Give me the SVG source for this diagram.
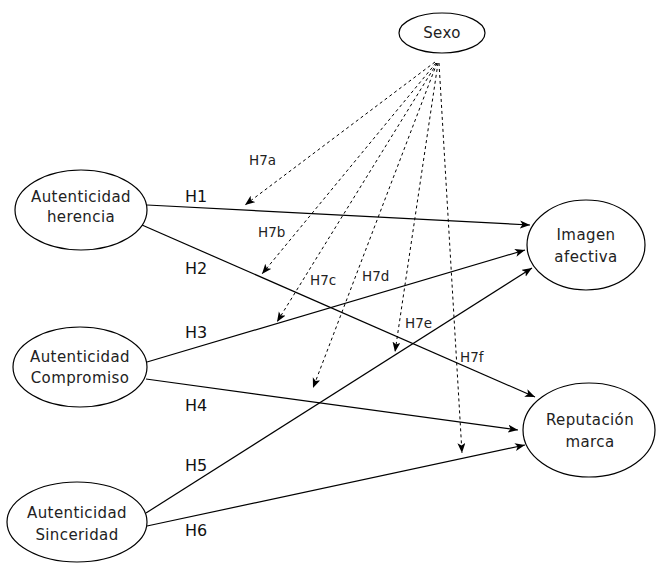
<svg xmlns="http://www.w3.org/2000/svg" width="656" height="563" viewBox="0 0 656 563">
<style>
.node ellipse{fill:#fff;stroke:#000;stroke-width:1.2}
.lbl{font-family:"DejaVu Sans",sans-serif;font-size:15px;letter-spacing:0.4px;fill:#222;text-anchor:middle}
.h{font-family:"DejaVu Sans",sans-serif;font-size:16px;fill:#111}
.h7{font-family:"DejaVu Sans",sans-serif;font-size:13.5px;fill:#222}
.solid{stroke:#000;stroke-width:1.2;fill:none;marker-end:url(#arr)}
.dash{stroke:#000;stroke-width:1;stroke-dasharray:3,3;fill:none;marker-end:url(#arr)}
</style>
<defs>
<marker id="arr" markerUnits="userSpaceOnUse" markerWidth="12" markerHeight="10" refX="10" refY="4" orient="auto" viewBox="0 0 12 10">
<path d="M0,0 L10,4 L0,8 L2.5,4 z" fill="#000"/>
</marker>
</defs>
<rect width="656" height="563" fill="#fff"/>
<g id="connectors">
<line class="solid" x1="147" y1="205" x2="530" y2="225"/>
<line class="solid" x1="142" y1="225" x2="535" y2="397"/>
<line class="solid" x1="147" y1="362" x2="525" y2="250"/>
<line class="solid" x1="146" y1="379" x2="518" y2="430"/>
<line class="solid" x1="146" y1="513" x2="532" y2="268"/>
<line class="solid" x1="147" y1="526" x2="525" y2="445"/>
<line class="dash" x1="435" y1="62" x2="245" y2="205"/>
<line class="dash" x1="436" y1="63" x2="262" y2="274"/>
<line class="dash" x1="437" y1="63" x2="277" y2="322"/>
<line class="dash" x1="437" y1="63" x2="313" y2="388"/>
<line class="dash" x1="438" y1="63" x2="395" y2="352"/>
<line class="dash" x1="439" y1="63" x2="462" y2="453"/>
<text class="h" x="185" y="202">H1</text>
<text class="h" x="185" y="274">H2</text>
<text class="h" x="185" y="338">H3</text>
<text class="h" x="185" y="411">H4</text>
<text class="h" x="185" y="471">H5</text>
<text class="h" x="185" y="536">H6</text>
<text class="h7" x="249" y="165">H7a</text>
<text class="h7" x="258" y="237">H7b</text>
<text class="h7" x="310" y="285">H7c</text>
<text class="h7" x="362" y="281">H7d</text>
<text class="h7" x="405" y="328">H7e</text>
<text class="h7" x="460" y="362">H7f</text>
</g>
<g id="sexo" class="node">
<ellipse cx="442" cy="33" rx="43" ry="20"/>
<text class="lbl" x="442" y="38">Sexo</text>
</g>
<g id="herencia" class="node">
<ellipse cx="81" cy="210" rx="66" ry="40"/>
<text class="lbl" x="81" y="202">Autenticidad</text>
<text class="lbl" x="81" y="222">herencia</text>
</g>
<g id="compromiso" class="node">
<ellipse cx="80" cy="367" rx="67" ry="40"/>
<text class="lbl" x="80" y="362">Autenticidad</text>
<text class="lbl" x="80" y="383">Compromiso</text>
</g>
<g id="sinceridad" class="node">
<ellipse cx="77" cy="522" rx="70" ry="40"/>
<text class="lbl" x="77" y="518">Autenticidad</text>
<text class="lbl" x="77" y="540">Sinceridad</text>
</g>
<g id="imagen" class="node">
<ellipse cx="586" cy="245" rx="59" ry="45"/>
<text class="lbl" x="586" y="240">Imagen</text>
<text class="lbl" x="586" y="262">afectiva</text>
</g>
<g id="reputacion" class="node">
<ellipse cx="589" cy="430" rx="66" ry="47"/>
<text class="lbl" x="590" y="425">Reputación</text>
<text class="lbl" x="590" y="447">marca</text>
</g>
</svg>
